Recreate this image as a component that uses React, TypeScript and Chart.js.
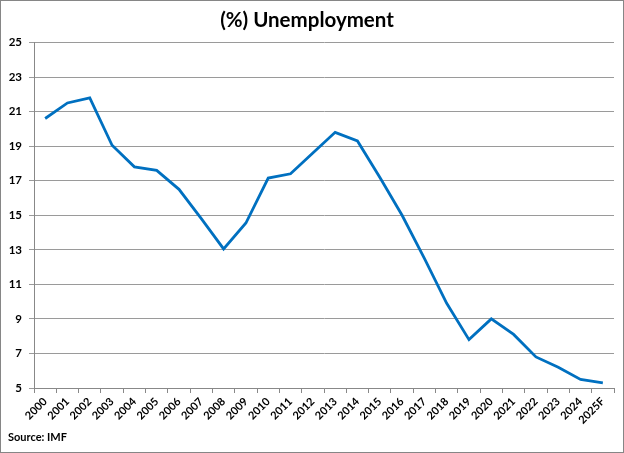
import React, { useEffect, useRef } from "react";
import Chart from "chart.js/auto";

const years: string[] = [
    "2000", "2001", "2002", "2003", "2004", "2005", "2006", "2007", "2008",
    "2009", "2010", "2011", "2012", "2013", "2014", "2015", "2016", "2017",
    "2018", "2019", "2020", "2021", "2022", "2023", "2024", "2025F",
];

const unemployment: number[] = [
    20.6, 21.5, 21.8, 19.05, 17.8, 17.6, 16.5, 14.8, 13.05, 14.55, 17.15, 17.4,
    18.6, 19.8, 19.3, 17.2, 15.0, 12.5, 9.9, 7.8, 9.0, 8.1, 6.8, 6.2, 5.5, 5.3,
];

const yMin = 5;
const yMax = 25;
const yStep = 2;

const chartTitle = "(%) Unemployment";
const sourceNote = "Source: IMF";

const FONT = "Lato, 'Liberation Sans', sans-serif";

const App: React.FC = () => {
    const chartRef = useRef<HTMLCanvasElement | null>(null);
    const chartInstance = useRef<Chart<"line"> | null>(null);

    useEffect(() => {
        if (chartRef.current !== null) {
            const ctx = chartRef.current.getContext("2d");
            if (ctx !== null) {
                chartInstance.current = new Chart(ctx, {
                    type: "line",
                    data: {
                        labels: years,
                        datasets: [{
                            data: unemployment,
                            borderColor: "#0070C0",
                            borderWidth: 2.8,
                            tension: 0,
                            fill: false,
                            pointRadius: 0,
                            pointHoverRadius: 0,
                        }],
                    },
                    options: {
                        responsive: false,
                        animation: false,
                        devicePixelRatio: 1,
                        layout: { padding: { left: 0, right: 10, top: 0, bottom: 25 } },
                        plugins: {
                            legend: { display: false },
                            tooltip: { enabled: false },
                            title: {
                                display: true,
                                text: chartTitle,
                                color: "#000",
                                font: { family: FONT, size: 20.5, weight: "bold", lineHeight: 1.2 },
                                padding: { top: 8, bottom: 9.9 },
                            },
                        },
                        scales: {
                            x: {
                                offset: true,
                                grid: {
                                    offset: true,
                                    drawOnChartArea: false,
                                    drawTicks: true,
                                    tickLength: 5,
                                    color: "#888",
                                },
                                border: { display: true, color: "#888" },
                                ticks: {
                                    color: "#000",
                                    font: { family: FONT, size: 11, weight: "bold" },
                                    minRotation: 45,
                                    maxRotation: 45,
                                    autoSkip: false,
                                    padding: 2,
                                },
                                afterFit: (scale) => { scale.height = 40; },
                            },
                            y: {
                                min: yMin,
                                max: yMax,
                                grid: { color: "#9a9a9a", tickLength: 5 },
                                border: { display: true, color: "#888" },
                                ticks: {
                                    stepSize: yStep,
                                    color: "#000",
                                    font: { family: FONT, size: 11.5, weight: "bold" },
                                    padding: 7,
                                },
                                afterFit: (scale) => { scale.width = 34; },
                            },
                        },
                    },
                });
            }
        }

        return () => {
            if (chartInstance.current !== null) {
                chartInstance.current.destroy();
                chartInstance.current = null;
            }
        };
    }, []);

    return (
        <div style={{
            position: "absolute", left: 0, top: 0, width: 624, height: 453,
            border: "1px solid #868686", boxSizing: "border-box", background: "#fff",
        }}>
            <canvas ref={chartRef} width={624} height={453}
                style={{ position: "absolute", left: -1, top: -1, width: 624, height: 453 }} />
            <div style={{
                position: "absolute", left: 7, top: 429, fontFamily: FONT,
                fontWeight: "bold", fontSize: 11, lineHeight: "14px", color: "#000",
            }}>{sourceNote}</div>
        </div>
    );
};

export default App;
